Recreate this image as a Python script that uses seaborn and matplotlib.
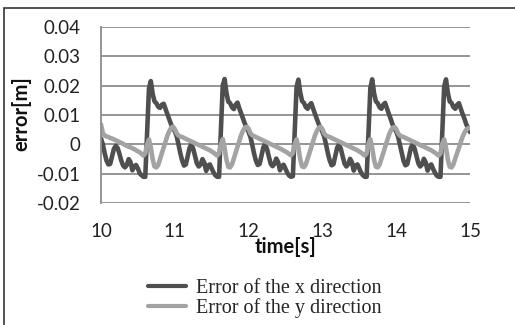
import numpy as np
import pandas as pd
import matplotlib
matplotlib.use("Agg")
import matplotlib.pyplot as plt
import seaborn as sns
from matplotlib.lines import Line2D
from matplotlib.patches import Rectangle

time_s = np.linspace(10, 15, 201)

error_x = [
    # 10 s
    0.0020, 0.0000, -0.0030, -0.0055, -0.0068, -0.0066, -0.0040, -0.0015, -0.0005, -0.0012,
    -0.0032, -0.0055, -0.0072, -0.0078, -0.0070, -0.0050, -0.0060, -0.0088, -0.0075, -0.0070,
    -0.0082, -0.0098, -0.0105, -0.0110, -0.0110, 0.0040, 0.0190, 0.0215, 0.0172, 0.0146,
    0.0140, 0.0128, 0.0124, 0.0135, 0.0138, 0.0120, 0.0103, 0.0085, 0.0068, 0.0055,
    # 11 s
    0.0045, 0.0028, 0.0000, -0.0030, -0.0055, -0.0072, -0.0068, -0.0040, -0.0012, 0.0000,
    -0.0015, -0.0040, -0.0065, -0.0075, -0.0068, -0.0050, -0.0062, -0.0090, -0.0072, -0.0068,
    -0.0082, -0.0095, -0.0105, -0.0110, -0.0110, 0.0050, 0.0200, 0.0222, 0.0175, 0.0145,
    0.0140, 0.0126, 0.0120, 0.0135, 0.0142, 0.0122, 0.0105, 0.0088, 0.0070, 0.0056,
    # 12 s
    0.0042, 0.0025, -0.0002, -0.0032, -0.0056, -0.0070, -0.0066, -0.0038, -0.0010, 0.0000,
    -0.0016, -0.0042, -0.0066, -0.0074, -0.0066, -0.0048, -0.0060, -0.0088, -0.0073, -0.0069,
    -0.0083, -0.0097, -0.0106, -0.0110, -0.0108, 0.0045, 0.0195, 0.0220, 0.0176, 0.0147,
    0.0141, 0.0127, 0.0121, 0.0134, 0.0140, 0.0121, 0.0104, 0.0086, 0.0069, 0.0055,
    # 13 s
    0.0043, 0.0026, -0.0001, -0.0031, -0.0055, -0.0071, -0.0067, -0.0039, -0.0011, -0.0001,
    -0.0015, -0.0041, -0.0065, -0.0075, -0.0067, -0.0049, -0.0061, -0.0089, -0.0072, -0.0068,
    -0.0082, -0.0096, -0.0105, -0.0110, -0.0110, 0.0042, 0.0192, 0.0221, 0.0174, 0.0146,
    0.0140, 0.0126, 0.0121, 0.0135, 0.0141, 0.0122, 0.0104, 0.0087, 0.0068, 0.0054,
    # 14 s
    0.0044, 0.0027, -0.0001, -0.0030, -0.0056, -0.0071, -0.0067, -0.0040, -0.0011, 0.0000,
    -0.0015, -0.0040, -0.0064, -0.0075, -0.0068, -0.0049, -0.0061, -0.0089, -0.0073, -0.0068,
    -0.0083, -0.0096, -0.0106, -0.0110, -0.0110, 0.0045, 0.0196, 0.0221, 0.0175, 0.0146,
    0.0141, 0.0127, 0.0121, 0.0134, 0.0140, 0.0121, 0.0103, 0.0087, 0.0068, 0.0055,
    # 15 s
    0.0042,
]

error_y = [
    # 10 s
    0.0068, 0.0038, 0.0030, 0.0027, 0.0025, 0.0022, 0.0020, 0.0017, 0.0014, 0.0011,
    0.0008, 0.0005, 0.0002, -0.0002, -0.0005, -0.0008, -0.0010, -0.0013, -0.0016, -0.0020,
    -0.0023, -0.0027, -0.0032, -0.0038, -0.0030, 0.0000, 0.0017, -0.0010, -0.0050, -0.0075,
    -0.0078, -0.0070, -0.0050, -0.0030, -0.0010, 0.0010, 0.0030, 0.0045, 0.0056, 0.0060,
    # 11 s
    0.0052, 0.0038, 0.0030, 0.0027, 0.0025, 0.0022, 0.0019, 0.0016, 0.0013, 0.0010,
    0.0007, 0.0004, 0.0001, -0.0002, -0.0005, -0.0008, -0.0011, -0.0014, -0.0017, -0.0020,
    -0.0024, -0.0028, -0.0033, -0.0038, -0.0030, 0.0002, 0.0018, -0.0012, -0.0052, -0.0076,
    -0.0078, -0.0068, -0.0048, -0.0028, -0.0008, 0.0012, 0.0032, 0.0047, 0.0057, 0.0060,
    # 12 s
    0.0053, 0.0038, 0.0031, 0.0028, 0.0025, 0.0022, 0.0019, 0.0016, 0.0013, 0.0010,
    0.0007, 0.0004, 0.0001, -0.0002, -0.0005, -0.0008, -0.0011, -0.0014, -0.0017, -0.0021,
    -0.0024, -0.0028, -0.0033, -0.0037, -0.0029, 0.0001, 0.0017, -0.0011, -0.0051, -0.0075,
    -0.0077, -0.0068, -0.0049, -0.0029, -0.0009, 0.0011, 0.0031, 0.0046, 0.0056, 0.0060,
    # 13 s
    0.0052, 0.0037, 0.0030, 0.0027, 0.0025, 0.0022, 0.0019, 0.0016, 0.0013, 0.0010,
    0.0007, 0.0004, 0.0001, -0.0002, -0.0005, -0.0008, -0.0011, -0.0014, -0.0017, -0.0020,
    -0.0024, -0.0028, -0.0033, -0.0038, -0.0030, 0.0002, 0.0018, -0.0012, -0.0052, -0.0076,
    -0.0078, -0.0069, -0.0049, -0.0029, -0.0009, 0.0011, 0.0031, 0.0046, 0.0056, 0.0059,
    # 14 s
    0.0052, 0.0038, 0.0030, 0.0027, 0.0025, 0.0022, 0.0019, 0.0016, 0.0013, 0.0010,
    0.0007, 0.0004, 0.0001, -0.0002, -0.0005, -0.0008, -0.0011, -0.0014, -0.0017, -0.0020,
    -0.0024, -0.0028, -0.0033, -0.0038, -0.0030, 0.0002, 0.0017, -0.0012, -0.0052, -0.0076,
    -0.0078, -0.0068, -0.0048, -0.0030, -0.0012, 0.0008, 0.0026, 0.0040, 0.0050, 0.0055,
    # 15 s
    0.0056,
]

series_names = ["Error of the x direction", "Error of the y direction"]
series_colors = ["#4f4f4f", "#a3a3a3"]
x_ticks = [10, 11, 12, 13, 14, 15]
y_ticks = [-0.02, -0.01, 0, 0.01, 0.02, 0.03, 0.04]
y_tick_labels = ["-0.02", "-0.01", "0", "0.01", "0.02", "0.03", "0.04"]

df = pd.concat([
    pd.DataFrame({"time": time_s, "error": error_x, "series": series_names[0]}),
    pd.DataFrame({"time": time_s, "error": error_y, "series": series_names[1]}),
])

sns.set_style("white")
plt.rcParams["font.family"] = ["Lato", "DejaVu Sans"]

grid_color = "#8c8c8c"

fig = plt.figure(figsize=(5.15, 3.25), dpi=100)
ax = fig.add_axes([0.1961, 0.3745, 0.7165, 0.5435])

sns.lineplot(data=df, x="time", y="error", hue="series", hue_order=series_names,
             palette=series_colors, linewidth=3.3, ax=ax, legend=False,
             solid_joinstyle="round", solid_capstyle="round")

ax.set_xlim(10, 15)
ax.set_ylim(-0.02, 0.04)
ax.set_xticks(x_ticks)
ax.set_yticks(y_ticks)
ax.set_yticklabels(y_tick_labels)

ax.yaxis.grid(True, color=grid_color, lw=1.3)
ax.xaxis.grid(False)
ax.set_axisbelow(True)
for side in ["top", "right", "bottom"]:
    ax.spines[side].set_visible(False)
ax.spines["left"].set_color(grid_color)
ax.spines["left"].set_linewidth(1.3)

ax.tick_params(axis="y", length=4.5, width=1.3, color=grid_color, pad=10,
               labelsize=13.5, labelcolor="#222222")
ax.tick_params(axis="x", length=0, pad=14, labelsize=13.5, labelcolor="#222222")

ax.set_xlabel("time[s]", fontweight="bold", fontsize=14.5, va="center", color="#111111")
ax.xaxis.set_label_coords(0.5, -0.247)
ax.set_ylabel("error[m]", fontweight="bold", fontsize=14.5, va="center", color="#111111")
ax.yaxis.set_label_coords(-0.217, 0.506)

# legend below the plot, serif text as in the original
handles = [Line2D([], [], color=c, lw=3.0) for c in series_colors]
fig.legend(handles, series_names, loc="center", bbox_to_anchor=(0.514, 0.082),
           frameon=False, handlelength=1.9, handletextpad=0.5, labelspacing=0.0,
           prop={"family": "Liberation Serif", "size": 14.5})

# frame around the figure (cut off on the right and bottom)
fig.patches.append(Rectangle((4 / 515, -0.5), 2, 1.475, transform=fig.transFigure,
                             fill=False, ec="#333333", lw=1.2))

fig.savefig("out.png", dpi=100)
